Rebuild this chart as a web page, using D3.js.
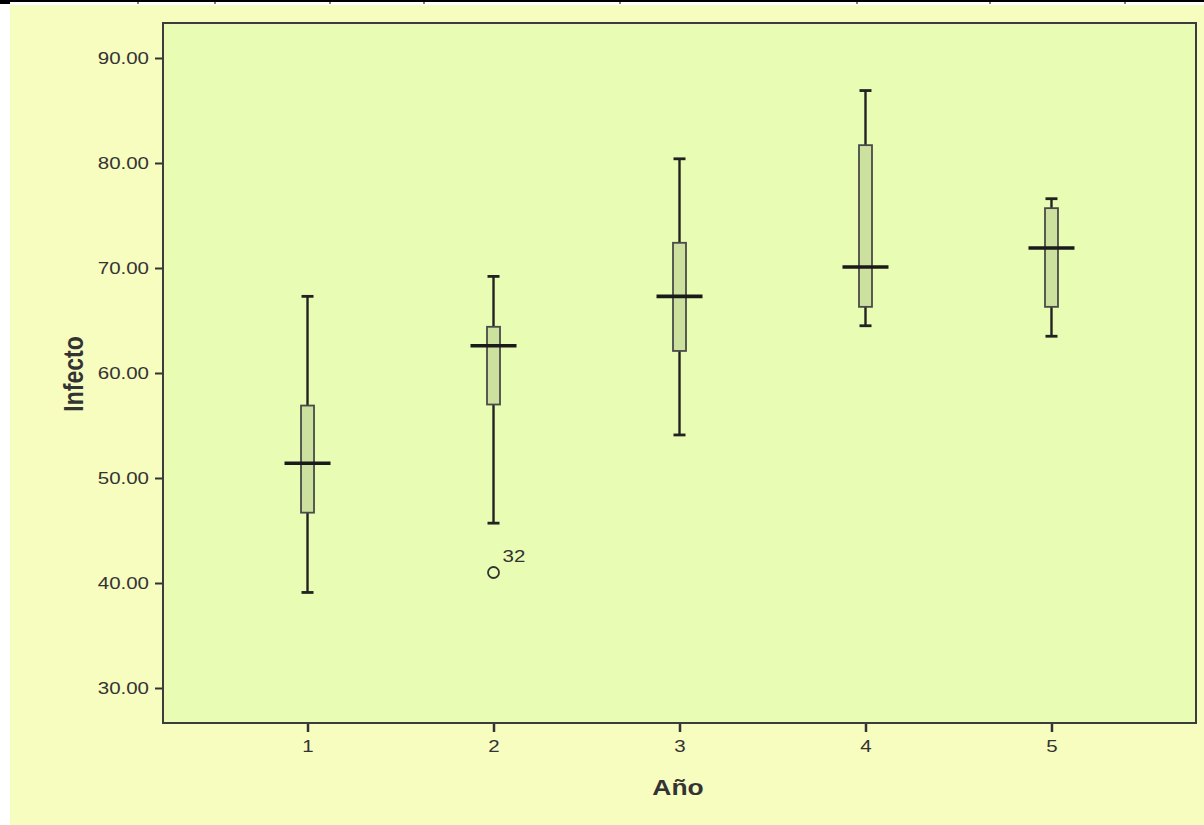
<!DOCTYPE html>
<html>
<head>
<meta charset="utf-8">
<script src="https://cdn.jsdelivr.net/npm/d3@7"></script>
<style>
  body { margin: 0; background: #fff; }
  svg { display: block; }
  text { font-family: "Liberation Sans", Arial, sans-serif; fill: #333; }
</style>
</head>
<body>
<div id="box"></div>
<script>
// data
var years = ["1", "2", "3", "4", "5"];
var whiskerLow  = [39.1, 45.7, 54.1, 64.5, 63.5];
var q1          = [46.7, 57.0, 62.1, 66.3, 66.3];
var medians     = [51.4, 62.6, 67.3, 70.1, 71.9];
var q3          = [56.9, 64.4, 72.4, 81.7, 75.7];
var whiskerHigh = [67.3, 69.2, 80.4, 86.9, 76.6];
var outliers = [{ year: "2", value: 41.0, label: "32" }];
var yTicks = [30, 40, 50, 60, 70, 80, 90];
var topTicks = [138, 215, 330, 424, 620, 857, 990, 1125];

var W = 1204, H = 825;
var sx = 1.2; // text in the picture is stretched sideways
var tickSx = 1.28;

var svg = d3.select("#box").append("svg")
    .attr("width", W)
    .attr("height", H);

// outer background
svg.append("rect")
    .attr("x", 10).attr("y", 5)
    .attr("width", W - 10).attr("height", H - 5)
    .attr("fill", "#f7fcbf");

// thin table line at top
svg.append("line")
    .attr("x1", 0).attr("x2", W).attr("y1", 1).attr("y2", 1)
    .attr("stroke", "#000").attr("stroke-width", 2);
svg.append("rect")
    .attr("x", 0).attr("y", 1).attr("width", 10).attr("height", 3)
    .attr("fill", "#000");
svg.selectAll(".topTick")
    .data(topTicks)
    .enter()
    .append("line")
    .attr("x1", function(d) { return d; })
    .attr("x2", function(d) { return d; })
    .attr("y1", 0).attr("y2", 4)
    .attr("stroke", "#000").attr("stroke-width", 1);

var pLeft = 163, pRight = 1196, pTop = 23, pBottom = 723;

var x = d3.scalePoint()
    .domain(years)
    .range([pLeft, pRight])
    .padding(0.777);

var y = d3.scaleLinear()
    .domain([26.667, 93.333])
    .range([pBottom, pTop]);

// plot area
svg.append("rect")
    .attr("x", pLeft).attr("y", pTop)
    .attr("width", pRight - pLeft).attr("height", pBottom - pTop)
    .attr("fill", "#e9fcb3");

// y axis
var yAxis = svg.append("g")
    .attr("transform", "translate(" + pLeft + ",0)")
    .call(d3.axisLeft(y).tickValues(yTicks).tickSize(8).tickPadding(4)
        .tickFormat(function(d) { return d3.format(".2f")(d); }));
yAxis.select(".domain").remove();
yAxis.selectAll(".tick line").attr("stroke", "#333").attr("stroke-width", 2);
yAxis.selectAll(".tick text")
    .attr("font-size", 16)
    .attr("fill", "#2e2e2e")
    .attr("font-family", "Liberation Sans, Arial, sans-serif")
    .attr("x", null).attr("dy", null)
    .attr("transform", "translate(-14,0) scale(" + tickSx + ",1)")
    .attr("dominant-baseline", "central");

// x axis
var xAxis = svg.append("g")
    .attr("transform", "translate(0," + pBottom + ")")
    .call(d3.axisBottom(x).tickSize(9).tickPadding(6));
xAxis.select(".domain").remove();
xAxis.selectAll(".tick line").attr("stroke", "#333").attr("stroke-width", 2.5);
xAxis.selectAll(".tick text")
    .attr("font-size", 16)
    .attr("fill", "#2e2e2e")
    .attr("font-family", "Liberation Sans, Arial, sans-serif")
    .attr("y", null).attr("dy", null)
    .attr("transform", "translate(0,23) scale(" + tickSx + ",1)")
    .attr("dominant-baseline", "central");

// frame
svg.append("rect")
    .attr("x", pLeft).attr("y", pTop)
    .attr("width", pRight - pLeft).attr("height", pBottom - pTop)
    .attr("fill", "none")
    .attr("stroke", "#3c3c3c")
    .attr("stroke-width", 2);

// boxes
var stats = years.map(function(d, i) {
    return { year: d, lo: whiskerLow[i], q1: q1[i], med: medians[i], q3: q3[i], hi: whiskerHigh[i] };
});

var boxW = 13, capW = 12, medW = 46;

var box = svg.selectAll(".box")
    .data(stats)
    .enter()
    .append("g")
    .attr("class", "box")
    .attr("transform", function(d) { return "translate(" + x(d.year) + ",0)"; });

// whiskers
box.append("line")
    .attr("x1", 0).attr("x2", 0)
    .attr("y1", function(d) { return y(d.hi); })
    .attr("y2", function(d) { return y(d.q3); })
    .attr("stroke", "#222").attr("stroke-width", 2.4);
box.append("line")
    .attr("x1", 0).attr("x2", 0)
    .attr("y1", function(d) { return y(d.q1); })
    .attr("y2", function(d) { return y(d.lo); })
    .attr("stroke", "#222").attr("stroke-width", 2.4);
box.append("line")
    .attr("x1", -capW / 2).attr("x2", capW / 2)
    .attr("y1", function(d) { return y(d.hi); })
    .attr("y2", function(d) { return y(d.hi); })
    .attr("stroke", "#222").attr("stroke-width", 2.8);
box.append("line")
    .attr("x1", -capW / 2).attr("x2", capW / 2)
    .attr("y1", function(d) { return y(d.lo); })
    .attr("y2", function(d) { return y(d.lo); })
    .attr("stroke", "#222").attr("stroke-width", 2.8);

box.append("rect")
    .attr("x", -boxW / 2)
    .attr("width", boxW)
    .attr("y", function(d) { return y(d.q3); })
    .attr("height", function(d) { return y(d.q1) - y(d.q3); })
    .attr("fill", "#cde19f")
    .attr("stroke", "#4a4a4a")
    .attr("stroke-width", 1.8);

box.append("line")
    .attr("x1", -medW / 2).attr("x2", medW / 2)
    .attr("y1", function(d) { return y(d.med); })
    .attr("y2", function(d) { return y(d.med); })
    .attr("stroke", "#1a1a1a").attr("stroke-width", 3.6);

// outliers
var out = svg.selectAll(".outlier")
    .data(outliers)
    .enter()
    .append("g")
    .attr("class", "outlier")
    .attr("transform", function(d) { return "translate(" + x(d.year) + "," + y(d.value) + ")"; });
out.append("circle")
    .attr("r", 5.5)
    .attr("fill", "none")
    .attr("stroke", "#333")
    .attr("stroke-width", 1.8);
out.append("text")
    .attr("transform", "translate(9,-16) scale(" + tickSx + ",1)")
    .attr("font-size", 16)
    .attr("fill", "#2e2e2e")
    .attr("dominant-baseline", "central")
    .text(function(d) { return d.label; });

// axis titles
svg.append("text")
    .attr("transform", "translate(678,787) scale(" + sx + ",1)")
    .attr("text-anchor", "middle")
    .attr("dominant-baseline", "central")
    .attr("font-size", 22)
    .attr("font-weight", "bold")
    .attr("fill", "#222")
    .text("Año");

svg.append("text")
    .attr("transform", "translate(73,374) scale(" + sx + ",1) rotate(-90)")
    .attr("text-anchor", "middle")
    .attr("dominant-baseline", "central")
    .attr("font-size", 23)
    .attr("font-weight", "bold")
    .attr("fill", "#222")
    .text("Infecto");
</script>
</body>
</html>
